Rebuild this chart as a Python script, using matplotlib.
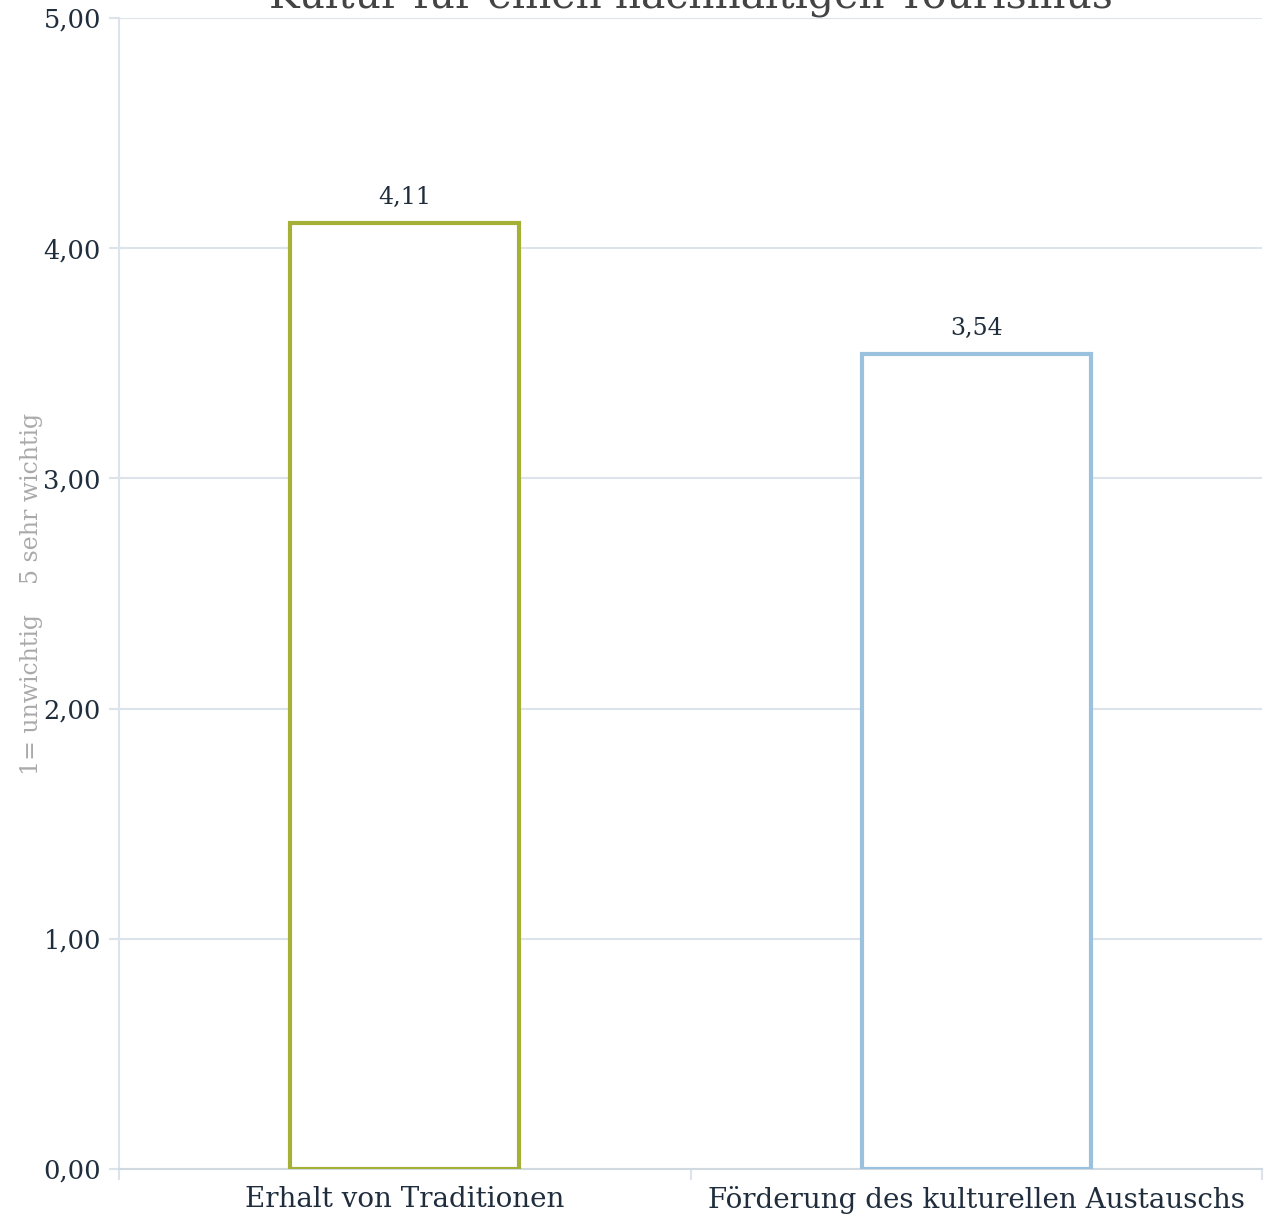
import matplotlib.pyplot as plt
import numpy as np

# Daten
kategorien = ["Erhalt von Traditionen", "Förderung des kulturellen Austauschs"]
werte = [4.11, 3.54]
farben = ["#a5b136", "#9ac2de"]
titel = "Kultur für einen nachhaltigen Tourismus"
y_label = "1= unwichtig    5 sehr wichtig"
y_ticks = [0, 1, 2, 3, 4, 5]

plt.rcParams['font.family'] = ['DejaVu Serif']
text_farbe = "#1f2d3d"
grid_farbe = "#dde3ea"

fig = plt.figure(figsize=(12.81, 12.23), dpi=100)
ax = fig.add_axes([0.0929, 0.0442, 0.8923, 0.9411])

x = np.arange(len(kategorien))
bars = ax.bar(x, werte, width=0.4, color="white", edgecolor=farben,
              linewidth=3, zorder=3)

for xi, w in zip(x, werte):
    ax.annotate(f"{w:.2f}".replace(".", ","), (xi, w), xytext=(0, 10),
                textcoords="offset points", ha="center", va="bottom",
                fontsize=17, color=text_farbe)

ax.set_xlim(-0.5, len(kategorien) - 0.5)
ax.set_ylim(0, 5)
ax.set_yticks(y_ticks)
ax.set_yticklabels([f"{v:.2f}".replace(".", ",") for v in y_ticks],
                   fontsize=18.5, color=text_farbe)
ax.set_xticks(x)
ax.set_xticklabels(kategorien, fontsize=20, color=text_farbe)
ax.tick_params(axis="x", which="major", length=0, pad=12)
ax.set_xticks(np.arange(-0.5, len(kategorien)), minor=True)
ax.tick_params(axis="x", which="minor", length=8, color=grid_farbe, width=1.5)
ax.tick_params(axis="y", length=7, color=grid_farbe, width=1.5, pad=6)

ax.yaxis.grid(True, color=grid_farbe, linewidth=1.5, zorder=0)
ax.set_axisbelow(True)
for s in ["top", "right"]:
    ax.spines[s].set_visible(False)
ax.spines["left"].set_color(grid_farbe)
ax.spines["left"].set_linewidth(1.5)
ax.spines["bottom"].set_color("#d0d8e0")
ax.spines["bottom"].set_linewidth(1.5)

fig.text(32 / 1281, 1 - 594 / 1223, y_label, rotation=90, ha="center",
         va="center", fontsize=17, color="#aaaaaa")
fig.text(0.539, 0.994, titel, ha="center", va="baseline", fontsize=29.5,
         color="#444444")

fig.savefig("out.png", dpi=100)
